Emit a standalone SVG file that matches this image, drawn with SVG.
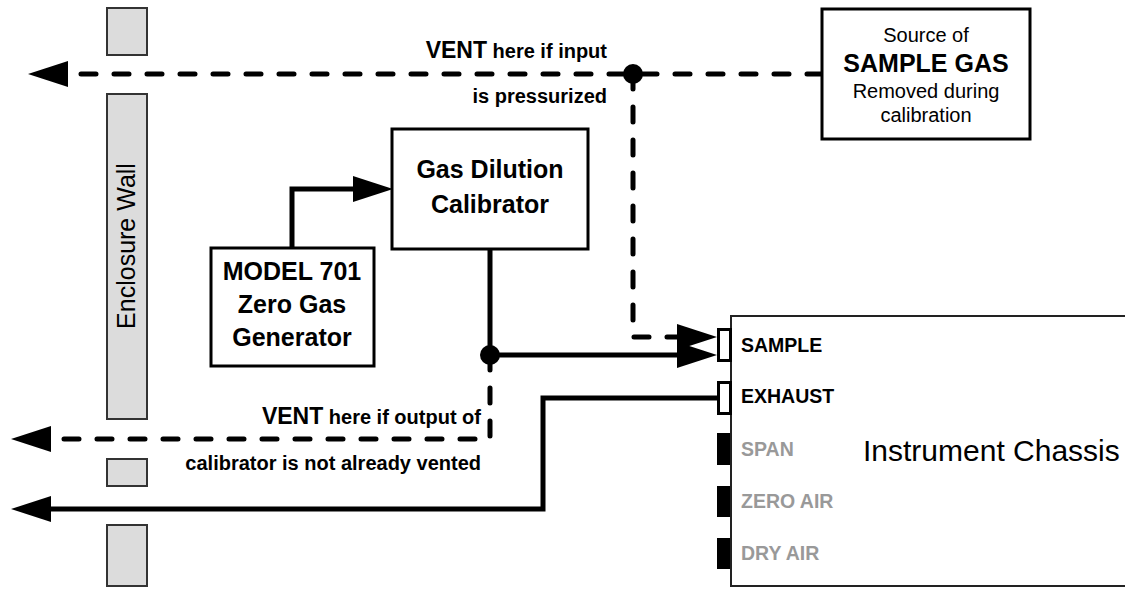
<svg xmlns="http://www.w3.org/2000/svg" width="1125" height="590" viewBox="0 0 1125 590">
<defs>
<style>
.box{fill:#fff;stroke:#000;stroke-width:3}
.wall{fill:#dcdcdc;stroke:#333;stroke-width:2}
.solid{fill:none;stroke:#000;stroke-width:5;stroke-linejoin:miter}
.dash{fill:none;stroke:#000;stroke-width:5;stroke-linecap:round;stroke-dasharray:15 18}
.t{font-family:"Liberation Sans",Arial,sans-serif;fill:#000}
.b{font-weight:bold}
.port{fill:#fff;stroke:#000;stroke-width:3}
.plug{fill:#000}
.pl{font-family:"Liberation Sans",Arial,sans-serif;font-weight:bold;font-size:19.5px}
</style>
<marker id="ah" viewBox="0 0 40 26" refX="0" refY="13" markerWidth="40" markerHeight="26" markerUnits="userSpaceOnUse" orient="auto">
<path d="M0,0 L40,13 L0,26 Z" fill="#000"/>
</marker>
</defs>
<rect width="1125" height="590" fill="#fff"/>

<g id="wall">
<rect class="wall" x="107" y="8" width="40" height="47"/>
<rect class="wall" x="107" y="94" width="40" height="325"/>
<rect class="wall" x="107" y="459" width="40" height="27"/>
<rect class="wall" x="107" y="525" width="40" height="61"/>
<text class="t" font-size="25" fill="#111" transform="translate(135,246) rotate(-90)" text-anchor="middle">Enclosure Wall</text>
</g>

<g id="connectors">
<path class="dash" d="M822,74 L68,74" marker-end="url(#ah)"/>
<path class="dash" d="M633,74 L633,337 L677,337" marker-end="url(#ah)"/>
<path class="solid" d="M292,248 L292,189 L353,189" marker-end="url(#ah)"/>
<path class="solid" d="M490,249 L490,355 L677,355" marker-end="url(#ah)"/>
<path class="dash" d="M490,355 L490,439 L51,439" marker-end="url(#ah)"/>
<path class="solid" d="M717,398 L543,398 L543,509 L51,509" marker-end="url(#ah)"/>
<circle cx="633" cy="74" r="10" fill="#000"/>
<circle cx="490" cy="355" r="10" fill="#000"/>
</g>

<g id="labels">
<text class="t b" font-size="20" x="607" y="58" text-anchor="end"><tspan font-size="23">VENT</tspan> here if input</text>
<text class="t b" font-size="20" x="607" y="103" text-anchor="end">is pressurized</text>
<text class="t b" font-size="20" x="481" y="424" text-anchor="end"><tspan font-size="23">VENT</tspan> here if output of</text>
<text class="t b" font-size="20" x="481" y="470" text-anchor="end">calibrator is not already vented</text>
</g>

<g id="source">
<rect class="box" x="822" y="9" width="208" height="130"/>
<text class="t" font-size="20" x="926" y="42" text-anchor="middle">Source of</text>
<text class="t b" font-size="25" x="926" y="72" text-anchor="middle">SAMPLE GAS</text>
<text class="t" font-size="20" x="926" y="98" text-anchor="middle">Removed during</text>
<text class="t" font-size="20" x="926" y="122" text-anchor="middle">calibration</text>
</g>

<g id="calibrator">
<rect class="box" x="392" y="129" width="196" height="120"/>
<text class="t b" font-size="25" x="490" y="178" text-anchor="middle">Gas Dilution</text>
<text class="t b" font-size="25" x="490" y="213" text-anchor="middle">Calibrator</text>
</g>

<g id="model701">
<rect class="box" x="211" y="248" width="163" height="118"/>
<text class="t b" font-size="25" x="292" y="280" text-anchor="middle">MODEL 701</text>
<text class="t b" font-size="25" x="292" y="313" text-anchor="middle">Zero Gas</text>
<text class="t b" font-size="25" x="292" y="346" text-anchor="middle">Generator</text>
</g>

<g id="chassis">
<rect x="731" y="316" width="400" height="270" fill="#fff" stroke="#222" stroke-width="2"/>
<rect class="port" x="718.5" y="329.5" width="12" height="31"/>
<rect class="port" x="718.5" y="382.5" width="12" height="31"/>
<rect class="plug" x="717" y="433" width="13" height="32"/>
<rect class="plug" x="717" y="486" width="13" height="31"/>
<rect class="plug" x="717" y="538" width="13" height="31"/>
<text class="pl" x="741" y="352" fill="#000">SAMPLE</text>
<text class="pl" x="741" y="403" fill="#000">EXHAUST</text>
<text class="pl" x="741" y="456" fill="#999">SPAN</text>
<text class="pl" x="741" y="508" fill="#999">ZERO AIR</text>
<text class="pl" x="741" y="560" fill="#999">DRY AIR</text>
<text class="t" font-size="30" x="863" y="461">Instrument Chassis</text>
</g>
</svg>
